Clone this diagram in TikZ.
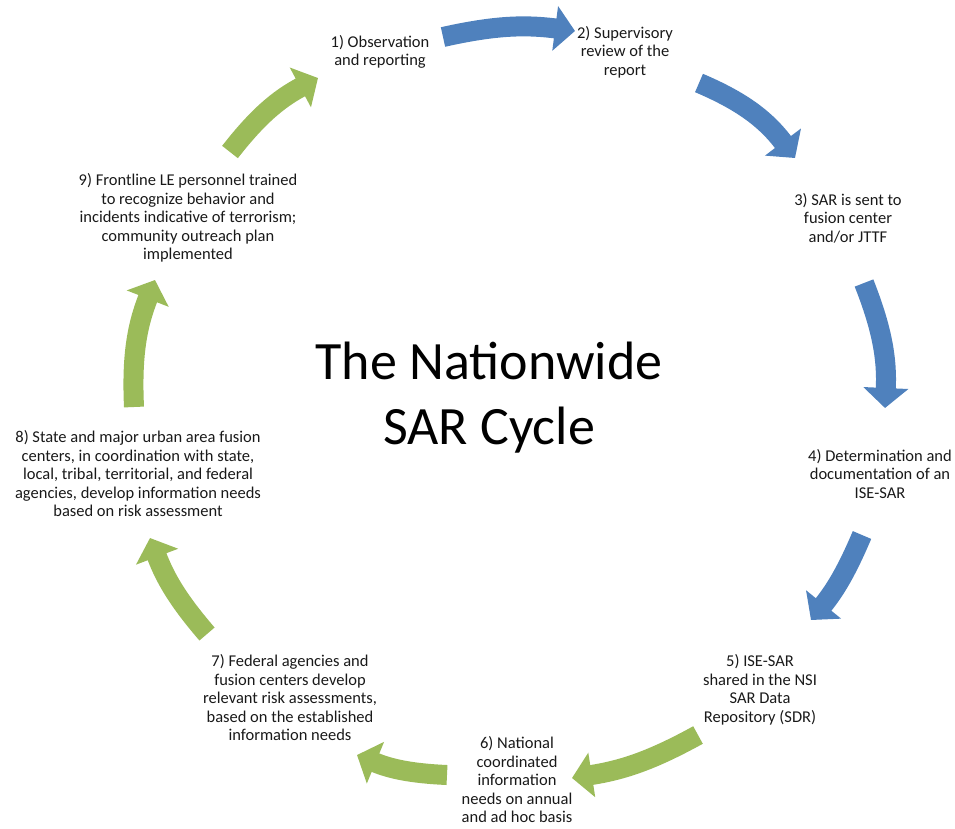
\documentclass[tikz,border=0pt]{standalone}
\usepackage{fontspec}
\setmainfont{Carlito}
\usetikzlibrary{arrows.meta}
\definecolor{sarblue}{HTML}{4F81BD}
\definecolor{sargreen}{HTML}{9BBB59}
\tikzset{
  steplabel/.style={align=center, font=\fontsize{16.5}{18.5}\selectfont, text=black!90},
  cyclearrow/.style={line width=20pt, -{Triangle[length=20pt,width=44pt]}},
}
\begin{document}
\begin{tikzpicture}[x=1pt,y=-1pt]
  \useasboundingbox (0,0) rectangle (955,828);
  \node (title) at (489,398) [align=center, font=\fontsize{54}{65}\selectfont] {The Nationwide\\SAR Cycle};
  % the nine steps
  \node (obs) at (380,52) [steplabel] {1) Observation\\and reporting};
  \node (review) at (625,52) [steplabel] {2) Supervisory\\review of the\\report};
  \node (sent) at (848,218) [steplabel] {3) SAR is sent to\\fusion center\\and/or JTTF};
  \node (determ) at (880,474) [steplabel] {4) Determination and\\documentation of an\\ISE-SAR};
  \node (shared) at (760,690) [steplabel] {5) ISE-SAR\\shared in the NSI\\SAR Data\\Repository (SDR)};
  \node (natneeds) at (517,780) [steplabel] {6) National\\coordinated\\information\\needs on annual\\and ad hoc basis};
  \node (assess) at (290,698) [steplabel] {7) Federal agencies and\\fusion centers develop\\relevant risk assessments,\\based on the established\\information needs};
  \node (develop) at (138,474) [steplabel] {8) State and major urban area fusion\\centers, in coordination with state,\\local, tribal, territorial, and federal\\agencies, develop information needs\\based on risk assessment};
  \node (trained) at (188,218) [steplabel] {9) Frontline LE personnel trained\\to recognize behavior and\\incidents indicative of terrorism;\\community outreach plan\\implemented};
  % arrow ends
  \coordinate (a1) at (443,37);  \coordinate (b1) at (575,31);
  \coordinate (a2) at (699,83);  \coordinate (b2) at (795,158);
  \coordinate (a3) at (864,283); \coordinate (b3) at (885,408);
  \coordinate (a4) at (862,535); \coordinate (b4) at (811,620);
  \coordinate (a5) at (698,735); \coordinate (b5) at (572,778);
  \coordinate (a6) at (447,775); \coordinate (b6) at (357,755);
  \coordinate (a7) at (207,634); \coordinate (b7) at (150,538);
  \coordinate (a8) at (134,407); \coordinate (b8) at (155,280);
  \coordinate (a9) at (230,152); \coordinate (b9) at (318,78);
  \draw [cyclearrow, sarblue] (a1) to [bend left=10] (b1);
  \draw [cyclearrow, sarblue] (a2) to [bend left=15] (b2);
  \draw [cyclearrow, sarblue] (a3) to [bend left=12] (b3);
  \draw [cyclearrow, sarblue] (a4) to [bend left=8] (b4);
  \draw [cyclearrow, sargreen] (a5) to [bend left=10] (b5);
  \draw [cyclearrow, sargreen] (a6) to [bend left=10] (b6);
  \draw [cyclearrow, sargreen] (a7) to [bend left=10] (b7);
  \draw [cyclearrow, sargreen] (a8) to [bend left=12] (b8);
  \draw [cyclearrow, sargreen] (a9) to [bend left=12] (b9);
\end{tikzpicture}
\end{document}
